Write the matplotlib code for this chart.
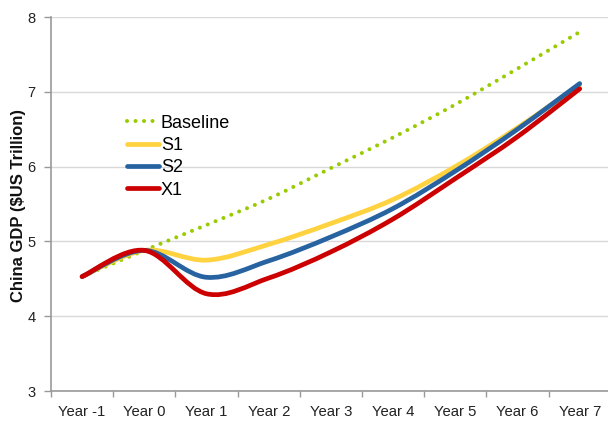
import numpy as np
import matplotlib
matplotlib.use("Agg")
import matplotlib.pyplot as plt
from matplotlib.path import Path
from matplotlib.patches import PathPatch
from matplotlib.lines import Line2D

# --- DATA ---
years = ["Year -1", "Year 0", "Year 1", "Year 2", "Year 3",
         "Year 4", "Year 5", "Year 6", "Year 7"]
baseline = [4.53, 4.88, 5.22, 5.57, 5.98, 6.39, 6.83, 7.31, 7.80]
s1 = [4.53, 4.88, 4.75, 4.96, 5.24, 5.56, 6.00, 6.52, 7.09]
s2 = [4.53, 4.88, 4.52, 4.74, 5.06, 5.44, 5.94, 6.50, 7.11]
x1 = [4.53, 4.88, 4.30, 4.51, 4.86, 5.30, 5.84, 6.40, 7.04]

plt.rcParams['font.family'] = ['Liberation Sans', 'DejaVu Sans']


def smooth_path(xs, ys):
    """Excel-style smoothed line as cubic Bezier segments (Catmull-Rom)."""
    pts = np.column_stack([xs, ys])
    n = len(pts)
    verts = [pts[0]]
    codes = [Path.MOVETO]
    for i in range(n - 1):
        p0 = pts[i - 1] if i > 0 else pts[i]
        p1, p2 = pts[i], pts[i + 1]
        p3 = pts[i + 2] if i + 2 < n else pts[i + 1]
        c1 = p1 + (p2 - p0) / 6.0
        c2 = p2 - (p3 - p1) / 6.0
        verts += [c1, c2, p2]
        codes += [Path.CURVE4] * 3
    return Path(verts, codes)


fig = plt.figure(figsize=(6.08, 4.21), dpi=100)
ax = fig.add_axes([51 / 608, 30 / 421, 1 - 51 / 608, (391 - 17) / 421])

xs = np.arange(len(years))
dots = (0, (0.01, 2.1))
series = [
    ("Baseline", baseline, "#99cc00", "dot"),
    ("S1", s1, "#ffd23f", "solid"),
    ("S2", s2, "#2763a0", "solid"),
    ("X1", x1, "#cc0000", "solid"),
]

handles = []
for name, vals, color, style in series:
    if style == "dot":
        patch = PathPatch(smooth_path(xs, vals), facecolor="none", edgecolor=color,
                          lw=2.9, linestyle=dots, capstyle="round")
        h = Line2D([], [], color=color, lw=2.9, linestyle=dots,
                   dash_capstyle="round")
    else:
        patch = PathPatch(smooth_path(xs, vals), facecolor="none", edgecolor=color,
                          lw=3.4, capstyle="round", joinstyle="round")
        h = Line2D([], [], color=color, lw=3.4, solid_capstyle="round")
    ax.add_patch(patch)
    handles.append(h)

ax.set_xlim(-0.5, 8.455)
ax.set_ylim(3, 8)

# category axis: ticks between categories, labels centred
ax.set_xticks(np.arange(-0.5, 8.5, 1.0))
ax.set_xticklabels([])
ax.set_xticks(xs, minor=True)
ax.set_xticklabels(years, minor=True, fontsize=10.7, color="#222222")
ax.tick_params(axis="x", which="major", length=4, color="#999999", width=1)
ax.tick_params(axis="x", which="minor", length=0, pad=10)

ax.set_yticks(range(3, 9))
ax.tick_params(axis="y", length=5, color="#999999", width=1, labelsize=10.5,
               labelcolor="#222222", pad=6)

ax.grid(axis="y", color="#d9d9d9", lw=1)
ax.set_axisbelow(True)
for side in ("top", "right"):
    ax.spines[side].set_visible(False)
for side in ("left", "bottom"):
    ax.spines[side].set_color("#999999")
    ax.spines[side].set_linewidth(1.2)

ax.set_ylabel("China GDP ($US Trillion)", fontsize=12, fontweight="bold",
              color="#111111")
ax.yaxis.set_label_coords(-25 / 557, (391 - 206) / 374)

fig.legend(handles, [s[0] for s in series], loc="upper left",
           bbox_to_anchor=(127 / 608, 1 - 114.5 / 421), frameon=False,
           fontsize=13, handlelength=1.75, handletextpad=0.12,
           labelspacing=0.3, borderpad=0, borderaxespad=0)

fig.savefig("out.png", dpi=100)
